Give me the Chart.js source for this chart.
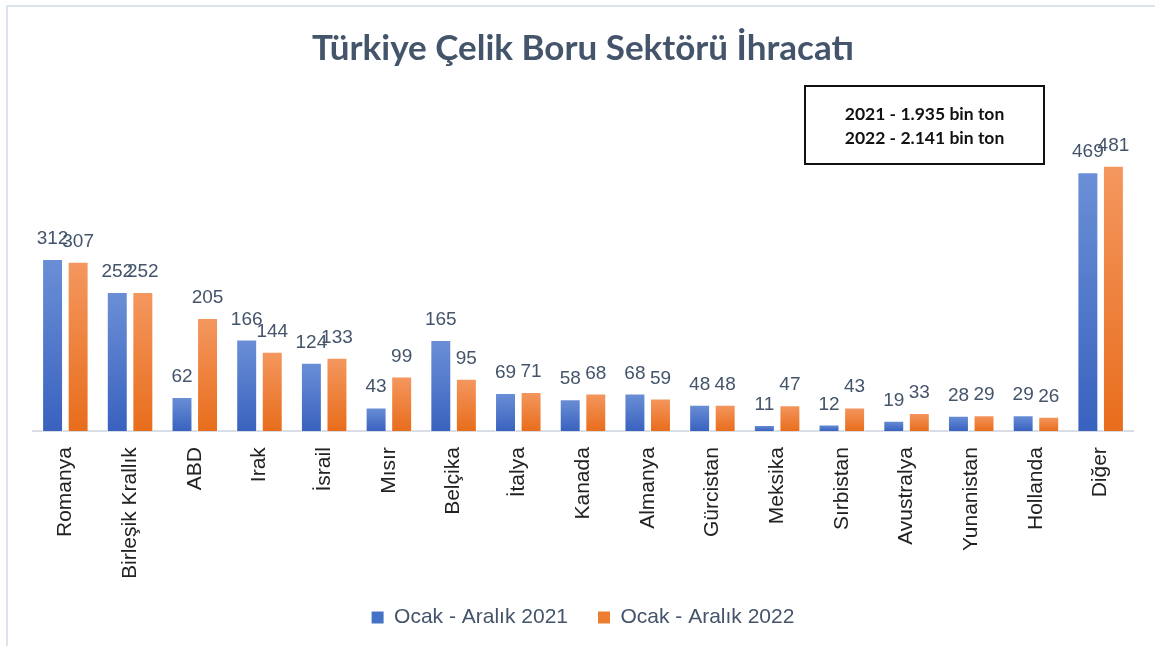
<!DOCTYPE html>
<html lang="tr">
<head>
<meta charset="utf-8">
<title>Türkiye Çelik Boru Sektörü İhracatı</title>
<script src="https://cdn.jsdelivr.net/npm/chart.js@4.4.1/dist/chart.umd.min.js"></script>
<style>
  html, body { margin: 0; padding: 0; background: #fff; }
  #wrap { position: relative; width: 1155px; height: 646px; overflow: hidden; }
  #frame { position: absolute; left: 6px; top: 5px; width: 1200px; height: 700px;
           border-top: 2px solid #dde3ec; border-left: 2px solid #dde3ec; }
  #exportChart { position: absolute; left: 0; top: 0; }
</style>
</head>
<body>
<div id="wrap">
  <div id="frame"></div>
  <canvas id="exportChart" width="1155" height="646"></canvas>
</div>
<script>
const chartTitle = "Türkiye Çelik Boru Sektörü İhracatı";
const countries = ["Romanya", "Birleşik Krallık", "ABD", "Irak", "İsrail", "Mısır", "Belçika",
  "İtalya", "Kanada", "Almanya", "Gürcistan", "Meksika", "Sırbistan", "Avustralya",
  "Yunanistan", "Hollanda", "Diğer"];
const seriesNames = ["Ocak - Aralık 2021", "Ocak - Aralık 2022"];
const exports2021 = [312, 252, 62, 166, 124, 43, 165, 69, 58, 68, 48, 11, 12, 19, 28, 29, 469];
const exports2022 = [307, 252, 205, 144, 133, 99, 95, 71, 68, 59, 48, 47, 43, 33, 29, 26, 481];
const totalLines = ["2021 - 1.935 bin ton", "2022 - 2.141 bin ton"];

(() => {
  const init = () => {
    const ctx = document.getElementById("exportChart");
    if (!ctx) return;

    const slate = "#44546a";

    // Excel-like vertical gradient for each bar, light at top, dark at the base
    const barFill = (light, dark) => context => {
      const chart = context.chart;
      if (!chart.chartArea || context.type !== "data") return dark;
      const y = chart.scales.y;
      const top = y.getPixelForValue(context.raw);
      const base = y.getPixelForValue(0);
      if (!isFinite(top) || base - top < 1) return dark;
      const g = chart.ctx.createLinearGradient(0, top, 0, base);
      g.addColorStop(0, light);
      g.addColorStop(1, dark);
      return g;
    };

    // values written above each bar
    const valueLabels = {
      id: "valueLabels",
      afterDatasetsDraw(chart) {
        const c = chart.ctx;
        c.save();
        c.font = "19px 'Liberation Sans', Arial, sans-serif";
        c.fillStyle = slate;
        c.textAlign = "center";
        c.textBaseline = "alphabetic";
        chart.data.datasets.forEach((ds, i) => {
          chart.getDatasetMeta(i).data.forEach((bar, j) => {
            c.fillText(String(ds.data[j]), bar.x, bar.y - 15);
          });
        });
        c.restore();
      }
    };

    // boxed note with yearly totals
    const totalsBox = {
      id: "totalsBox",
      afterDraw(chart) {
        const c = chart.ctx;
        const area = chart.chartArea;
        const x = area.right - 328, y = 86, w = 239, h = 78;
        c.save();
        c.strokeStyle = "#111";
        c.lineWidth = 2;
        c.strokeRect(x, y, w, h);
        c.fillStyle = "#111";
        c.font = "bold 17.5px Lato, 'Liberation Sans', sans-serif";
        c.textAlign = "center";
        c.textBaseline = "middle";
        totalLines.forEach((t, k) => c.fillText(t, x + w / 2, y + 28 + k * 24));
        c.restore();
      }
    };

    new Chart(ctx, {
      type: "bar",
      data: {
        labels: countries,
        datasets: [{
          label: seriesNames[0],
          data: exports2021,
          backgroundColor: barFill("#6b8fd6", "#3962bf"),
          borderColor: "#ffffff",
          borderWidth: 1
        }, {
          label: seriesNames[1],
          data: exports2022,
          backgroundColor: barFill("#f4975f", "#e86d1c"),
          borderColor: "#ffffff",
          borderWidth: 1
        }]
      },
      options: {
        responsive: false,
        animation: false,
        layout: { padding: { top: 10, left: 33, right: 22, bottom: 8 } },
        datasets: {
          bar: { categoryPercentage: 0.79, barPercentage: 0.82 }
        },
        plugins: {
          title: {
            display: true,
            text: chartTitle,
            color: slate,
            font: { family: "Lato, 'Liberation Sans', sans-serif", size: 35, weight: "bold" },
            padding: { top: 18, bottom: 30 }
          },
          legend: {
            position: "bottom",
            labels: {
              boxWidth: 12,
              boxHeight: 12,
              padding: 30,
              color: slate,
              font: { family: "'Liberation Sans', Arial, sans-serif", size: 21 },
              generateLabels: chart => chart.data.datasets.map((ds, i) => ({
                text: ds.label,
                fillStyle: i === 0 ? "#4472c4" : "#ed7d31",
                strokeStyle: i === 0 ? "#4472c4" : "#ed7d31",
                lineWidth: 0,
                fontColor: slate,
                datasetIndex: i
              }))
            }
          },
          tooltip: { enabled: false }
        },
        scales: {
          x: {
            grid: { display: false },
            border: { color: "#d9dde5", width: 2 },
            afterFit: scale => { scale.height -= 10; },
            ticks: {
              minRotation: 90,
              maxRotation: 90,
              autoSkip: false,
              padding: 8,
              color: "#222",
              font: { family: "'Liberation Sans', Arial, sans-serif", size: 21 }
            }
          },
          y: {
            display: false,
            min: 0,
            max: 600
          }
        }
      },
      plugins: [valueLabels, totalsBox]
    });
  };

  if (document.readyState === "loading") {
    document.addEventListener("DOMContentLoaded", init);
  } else {
    init();
  }
})();
</script>
</body>
</html>
